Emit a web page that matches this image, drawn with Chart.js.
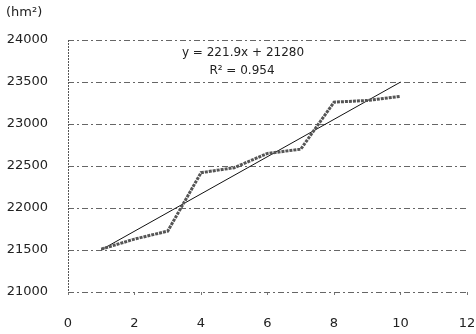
<!DOCTYPE html>
<html>
<head>
<meta charset="utf-8">
<script src="https://cdn.jsdelivr.net/npm/chart.js@4/dist/chart.umd.min.js"></script>
<style>
  html, body { margin: 0; padding: 0; background: #fff; }
  #wrap { width: 476px; height: 334px; }
</style>
</head>
<body>
<div id="wrap"><canvas id="c" width="476" height="334"></canvas></div>
<script>
// data
const xs = [1, 2, 3, 4, 5, 6, 7, 8, 9, 10];
const area = [21510, 21630, 21725, 22420, 22480, 22650, 22700, 23260, 23280, 23330];
// trendline y = 221.9x + 21280, endpoints
const trendX = [1, 10];
const trendY = [21502, 23499];
const eqLines = ['y = 221.9x + 21280', 'R² = 0.954'];
const unitLabel = '(hm²)';

const font = 'DejaVu Sans';

const textPlugin = {
  id: 'texts',
  beforeDatasetsDraw(chart) {
    // dotted left axis
    const ctx = chart.ctx, a = chart.chartArea;
    ctx.save();
    ctx.strokeStyle = '#555';
    ctx.lineWidth = 1;
    ctx.setLineDash([2, 1]);
    ctx.beginPath();
    ctx.moveTo(a.left + 0.5, a.top);
    ctx.lineTo(a.left + 0.5, a.bottom);
    ctx.stroke();
    ctx.restore();
  },
  afterDraw(chart) {
    const ctx = chart.ctx;
    ctx.save();
    ctx.fillStyle = '#222';
    ctx.font = '13px ' + font;
    ctx.textBaseline = 'middle';
    ctx.textAlign = 'left';
    ctx.fillText(unitLabel, 6, 13);
    ctx.font = '12px ' + font;
    ctx.textAlign = 'center';
    ctx.fillText(eqLines[0], 243, 53);
    ctx.fillText(eqLines[1], 242, 71);
    ctx.restore();
  }
};

new Chart(document.getElementById('c'), {
  type: 'scatter',
  data: {
    datasets: [{
      data: xs.map((x, i) => ({ x: x, y: area[i] })),
      showLine: true,
      borderColor: '#555',
      borderWidth: 3,
      borderDash: [3, 1],
      pointRadius: 0,
      tension: 0
    }, {
      data: trendX.map((x, i) => ({ x: x, y: trendY[i] })),
      showLine: true,
      borderColor: '#111',
      borderWidth: 1,
      pointRadius: 0
    }]
  },
  options: {
    responsive: false,
    animation: false,
    layout: { padding: { top: 40, right: 0, left: 0, bottom: 0 } },
    plugins: { legend: { display: false }, tooltip: { enabled: false } },
    scales: {
      x: {
        type: 'linear',
        min: 0, max: 12,
        ticks: { stepSize: 2, color: '#222', font: { family: font, size: 13 }, padding: 21 },
        grid: { drawOnChartArea: false, tickColor: '#777', tickLength: 3 },
        border: { display: false },
        afterFit(s) { s.height = 42; s.paddingRight = 9; s.paddingLeft = 0; }
      },
      y: {
        min: 21000, max: 24000,
        ticks: {
          stepSize: 500, color: '#222', font: { family: font, size: 13 }, padding: 20,
          callback: v => String(v)
        },
        grid: { color: '#666', tickLength: 0, lineWidth: 1 },
        border: { display: false, dash: [6, 3, 2, 3] },
        afterFit(s) { s.width = 68; }
      }
    }
  },
  plugins: [textPlugin]
});
</script>
</body>
</html>
